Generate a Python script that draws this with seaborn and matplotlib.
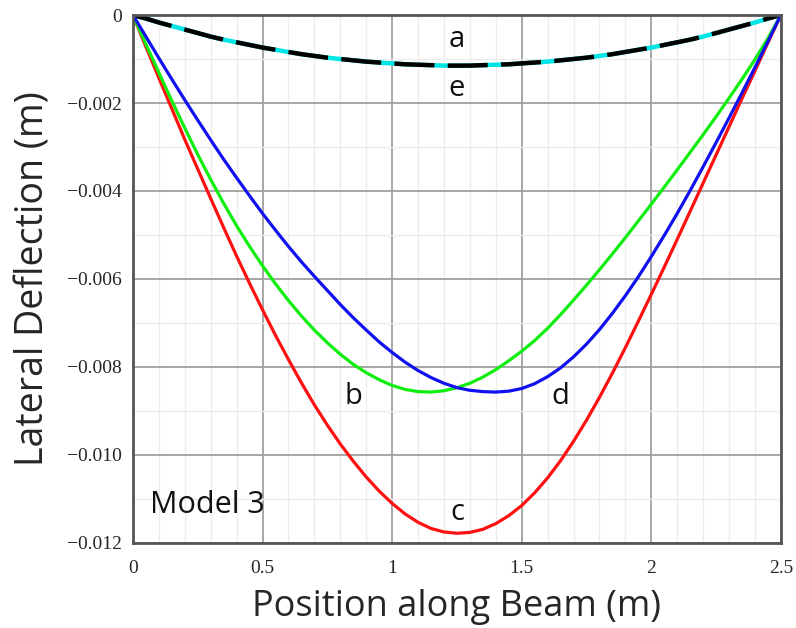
import numpy as np
import pandas as pd
import matplotlib
matplotlib.use("Agg")
import matplotlib.pyplot as plt
from matplotlib.ticker import MultipleLocator
import seaborn as sns

# positions along the beam (m), every 0.05 m
position = [0.00, 0.05, 0.10, 0.15, 0.20, 0.25, 0.30, 0.35, 0.40, 0.45,
            0.50, 0.55, 0.60, 0.65, 0.70, 0.75, 0.80, 0.85, 0.90, 0.95,
            1.00, 1.05, 1.10, 1.15, 1.20, 1.25, 1.30, 1.35, 1.40, 1.45,
            1.50, 1.55, 1.60, 1.65, 1.70, 1.75, 1.80, 1.85, 1.90, 1.95,
            2.00, 2.05, 2.10, 2.15, 2.20, 2.25, 2.30, 2.35, 2.40, 2.45, 2.50]

# lateral deflection (m)
defl_a = [0.0, -0.00008, -0.00017, -0.00025, -0.00033, -0.00041, -0.00049,
          -0.00056, -0.00062, -0.00068, -0.00074, -0.00079, -0.00084,
          -0.00089, -0.00093, -0.00097, -0.00100, -0.00103, -0.00106,
          -0.00108, -0.00110, -0.00112, -0.00113, -0.00114, -0.00115,
          -0.00115, -0.00115, -0.00114, -0.00113, -0.00112, -0.00110,
          -0.00108, -0.00106, -0.00103, -0.00100, -0.00097, -0.00093,
          -0.00089, -0.00084, -0.00079, -0.00074, -0.00068, -0.00062,
          -0.00056, -0.00049, -0.00041, -0.00033, -0.00025, -0.00017,
          -0.00008, 0.0]
defl_e = list(defl_a)
defl_b = [0.0, -0.00066, -0.00131, -0.00195, -0.00257, -0.00317, -0.00374,
          -0.00428, -0.00479, -0.00526, -0.00570, -0.00611, -0.00649,
          -0.00684, -0.00716, -0.00745, -0.00771, -0.00794, -0.00813,
          -0.00829, -0.00842, -0.00851, -0.00856, -0.00857, -0.00854,
          -0.00847, -0.00837, -0.00823, -0.00806, -0.00786, -0.00764,
          -0.00740, -0.00712, -0.00681, -0.00648, -0.00614, -0.00579,
          -0.00543, -0.00506, -0.00468, -0.00430, -0.00391, -0.00352,
          -0.00312, -0.00272, -0.00231, -0.00189, -0.00146, -0.00101,
          -0.00053, 0.0]
defl_c = [0.0, -0.00072, -0.00143, -0.00213, -0.00283, -0.00350, -0.00417,
          -0.00483, -0.00548, -0.00610, -0.00670, -0.00728, -0.00783,
          -0.00836, -0.00886, -0.00932, -0.00975, -0.01014, -0.01050,
          -0.01082, -0.01110, -0.01134, -0.01153, -0.01167, -0.01175,
          -0.01178, -0.01176, -0.01169, -0.01156, -0.01138, -0.01115,
          -0.01086, -0.01052, -0.01013, -0.00969, -0.00921, -0.00869,
          -0.00814, -0.00756, -0.00696, -0.00635, -0.00573, -0.00510,
          -0.00446, -0.00382, -0.00318, -0.00254, -0.00190, -0.00127,
          -0.00063, 0.0]
defl_d = [0.0, -0.00049, -0.00098, -0.00146, -0.00193, -0.00239, -0.00284,
          -0.00328, -0.00370, -0.00411, -0.00451, -0.00489, -0.00526,
          -0.00561, -0.00594, -0.00626, -0.00658, -0.00688, -0.00716,
          -0.00743, -0.00767, -0.00789, -0.00808, -0.00824, -0.00837,
          -0.00847, -0.00853, -0.00856, -0.00857, -0.00855, -0.00849,
          -0.00838, -0.00822, -0.00802, -0.00777, -0.00748, -0.00715,
          -0.00678, -0.00638, -0.00595, -0.00549, -0.00501, -0.00451,
          -0.00399, -0.00345, -0.00290, -0.00234, -0.00177, -0.00119,
          -0.00060, 0.0]

xticks = [0, 0.5, 1, 1.5, 2, 2.5]
xtick_labels = ["0", "0.5", "1", "1.5", "2", "2.5"]
yticks = [0, -0.002, -0.004, -0.006, -0.008, -0.010, -0.012]
ytick_labels = ["0", "\u22120.002", "\u22120.004", "\u22120.006",
                "\u22120.008", "\u22120.010", "\u22120.012"]

curve_labels = ["a", "e", "b", "c", "d"]
label_pos_x = [1.25, 1.25, 0.85, 1.25, 1.65]
label_pos_y = [-0.00055, -0.00168, -0.00866, -0.0113, -0.00866]

sns.set_theme(style="white")
plt.rcParams["font.family"] = ["Open Sans", "DejaVu Sans"]

fig = plt.figure(figsize=(7.96, 6.28), dpi=100)
ax = fig.add_axes([0.167, 0.1354, 0.814, 0.8407])

ax.xaxis.set_minor_locator(MultipleLocator(0.1))
ax.yaxis.set_minor_locator(MultipleLocator(0.001))
ax.grid(which="major", color="#a0a0a0", linewidth=1.3)
ax.grid(which="minor", color="#ededed", linewidth=1.0)
ax.set_axisbelow(True)

sns.lineplot(x=position, y=defl_e, color="#00e5e5", linewidth=3.2, ax=ax)
sns.lineplot(x=position, y=defl_a, color="black", linewidth=3.2,
             linestyle=(0, (9, 3)), ax=ax)
sns.lineplot(x=position, y=defl_c, color="#ff1010", linewidth=2.3, ax=ax)
sns.lineplot(x=position, y=defl_b, color="#10ee10", linewidth=2.3, ax=ax)
sns.lineplot(x=position, y=defl_d, color="#1010f0", linewidth=2.3, ax=ax)

for lab, lx, ly in zip(curve_labels, label_pos_x, label_pos_y):
    ax.text(lx, ly, lab, fontsize=21, ha="center", va="center", color="#111111")
ax.text(0.065, -0.01114, "Model 3", fontsize=22, ha="left", va="center",
        color="#111111")

ax.set_xlim(0, 2.5)
ax.set_ylim(-0.012, 0)
ax.set_xticks(xticks)
ax.set_xticklabels(xtick_labels)
ax.set_yticks(yticks)
ax.set_yticklabels(ytick_labels)
ax.tick_params(axis="y", which="both", length=0, labelsize=14, pad=8)
ax.tick_params(axis="x", which="both", length=0, labelsize=14, pad=12)
for t in ax.get_xticklabels() + ax.get_yticklabels():
    t.set_family(["Liberation Serif", "DejaVu Serif"])

for s in ax.spines.values():
    s.set_visible(True)
    s.set_color("#555555")
    s.set_linewidth(2.0)

ax.set_xlabel("Position along Beam (m)", fontsize=26, labelpad=9)
ax.set_ylabel("Lateral Deflection (m)", fontsize=27, labelpad=10)

fig.savefig("out.png", dpi=100)
